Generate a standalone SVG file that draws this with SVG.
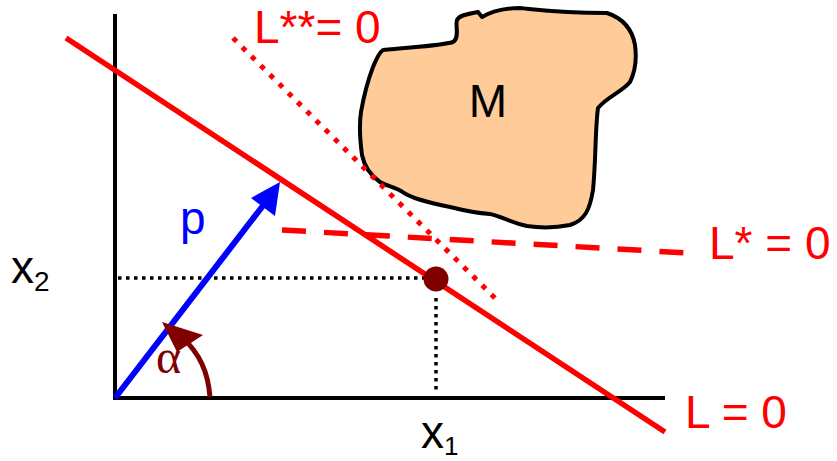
<svg xmlns="http://www.w3.org/2000/svg" width="837" height="461" viewBox="0 0 837 461">
<style>
.lbl{font-family:"Liberation Sans",Arial,sans-serif;font-size:46px}
.red{fill:#FF0000}
.axis{stroke:#000;stroke-width:4;fill:none}
.guide{stroke:#000;stroke-width:3.5;stroke-dasharray:3.5 4.5;fill:none}
</style>
<rect width="837" height="461" fill="#fff"/>
<g id="axes">
<line class="axis" x1="115" y1="14" x2="115" y2="400"/>
<line class="axis" x1="113" y1="398" x2="665" y2="398"/>
</g>
<g id="guides">
<line class="guide" x1="118" y1="278" x2="426" y2="278"/>
<line class="guide" x1="436" y1="298" x2="436" y2="392"/>
</g>
<g id="M">
<path d="M383,50 C410,47 440,46 453,42 C460,38 455,25 457,20 C460,14 470,14 478,12 L482,17 C492,11 505,8 520,8 C540,10 560,13 607,13 C622,18 632,28 635,45 C637,60 635,72 630,82 C622,92 608,96 598,108 C595,130 596,160 593,190 C590,208 586,220 570,225 C555,228 540,228 527,226 C510,222 500,216 490,214 C475,213 462,210 450,207 C430,203 412,198 404,193 C396,187 386,186 380,182 C370,175 364,165 362,155 C360,140 359,125 361,112 C364,95 368,80 373,67 C377,58 378,54 383,50 Z" fill="#FFCC99" stroke="#000" stroke-width="4" stroke-linejoin="round"/>
<text class="lbl" x="488" y="117" text-anchor="middle" fill="#000">M</text>
</g>
<g id="connectors">
<line x1="66" y1="38" x2="665" y2="432" stroke="#FF0000" stroke-width="5.5"/>
<line x1="233" y1="38" x2="497" y2="300" stroke="#FF0000" stroke-width="5" stroke-dasharray="5 8"/>
<line x1="282" y1="230" x2="688" y2="253" stroke="#FF0000" stroke-width="5.5" stroke-dasharray="24 18"/>
<line x1="115" y1="398" x2="265" y2="203" stroke="#0000FF" stroke-width="6"/>
<polygon points="280,182 251,198 275,216" fill="#0000FF"/>
<path d="M210,397 C208,372 200,354 182,337" stroke="#800000" stroke-width="5" fill="none"/>
<polygon points="162,322 203,335 177,352" fill="#800000"/>
</g>
<g id="point">
<circle cx="436" cy="279" r="12.5" fill="#800000"/>
</g>
<g id="labels">
<text class="lbl red" x="254" y="43">L**= 0</text>
<text class="lbl red" x="709" y="259">L* = 0</text>
<text class="lbl red" x="685" y="428">L = 0</text>
<text class="lbl" x="180" y="234" fill="#0000FF">p</text>
<text class="lbl" x="11" y="283" fill="#000">x<tspan font-size="28" dy="8">2</tspan></text>
<text class="lbl" x="421" y="448" fill="#000">x<tspan font-size="26" dy="7">1</tspan></text>
<text x="156" y="373" font-family="'Liberation Serif','Times New Roman',serif" font-size="48" fill="#800000">α</text>
</g>
</svg>
